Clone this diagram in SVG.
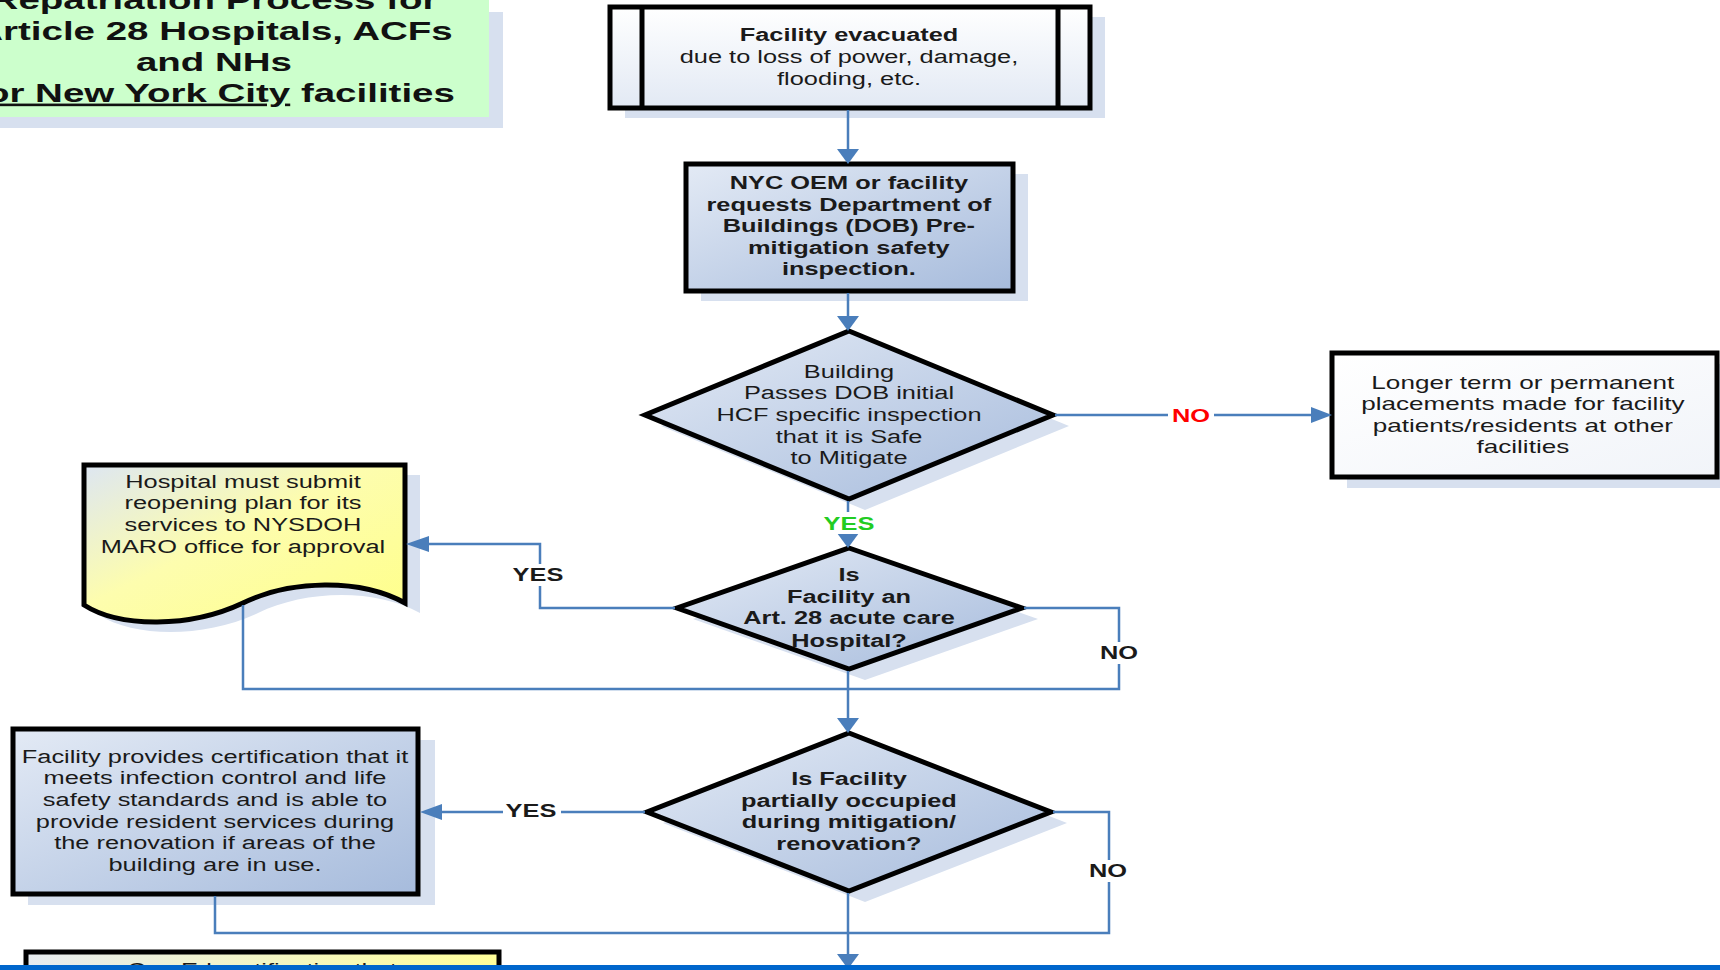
<svg xmlns="http://www.w3.org/2000/svg" width="1720" height="970" viewBox="0 0 1720 970">
<style>
text { font-family: "Liberation Sans", Arial, sans-serif; fill: #1a1a1a; text-anchor: middle; transform-box: fill-box; transform-origin: center; transform: scaleX(1.41); }
.t { font-size: 18px; }
.b { font-size: 18px; font-weight: bold; }
.title { font-size: 26px; font-weight: bold; fill: #111; transform: scaleX(1.48); }
.lbl { font-size: 18px; font-weight: bold; }
.sh { fill: #d7e0ef; }
.edge { fill: none; stroke: #000; stroke-width: 5; stroke-linejoin: miter; }
.conn { fill: none; stroke: #4a7ebb; stroke-width: 2.5; }
.ah { fill: #4a7ebb; stroke: none; }
</style>
<defs>
<linearGradient id="gBlue" x1="0" y1="0" x2="1" y2="1">
<stop offset="0" stop-color="#e3eaf5"/>
<stop offset="1" stop-color="#a6bbdc"/>
</linearGradient>
<linearGradient id="gWhite" x1="0" y1="0" x2="0" y2="1">
<stop offset="0" stop-color="#ffffff"/>
<stop offset="1" stop-color="#e2e9f4"/>
</linearGradient>
<linearGradient id="gWhite2" x1="0" y1="0" x2="1" y2="1">
<stop offset="0" stop-color="#ffffff"/>
<stop offset="1" stop-color="#f1f4f9"/>
</linearGradient>
<linearGradient id="gYellow" x1="0" y1="0" x2="1" y2="1">
<stop offset="0" stop-color="#dde6f2"/>
<stop offset="0.45" stop-color="#fdfdae"/>
<stop offset="1" stop-color="#ffff88"/>
</linearGradient>
<linearGradient id="gYellowH" x1="0" y1="0" x2="1" y2="0">
<stop offset="0" stop-color="#e6ebf0"/>
<stop offset="1" stop-color="#ffff99"/>
</linearGradient>
</defs>

<rect x="0" y="0" width="1720" height="970" fill="#ffffff"/>

<g id="title">
<rect class="sh" x="0" y="12" width="503" height="116"/>
<rect x="0" y="0" width="489" height="117" fill="#ccffcc"/>
<text class="title"><tspan x="214" y="9">Repatriation Process for</tspan><tspan x="214" y="40">Article 28 Hospitals, ACFs</tspan><tspan x="214" y="71">and NHs</tspan><tspan x="214" y="102"><tspan text-decoration="underline">for New York City</tspan> facilities</tspan></text>
</g>

<g id="n-evacuated">
<rect class="sh" x="625" y="17" width="480" height="101"/>
<rect x="610" y="7" width="480" height="101" fill="url(#gWhite)"/>
<rect class="edge" x="610" y="7" width="480" height="101"/>
<line class="edge" x1="642" y1="7" x2="642" y2="108"/>
<line class="edge" x1="1058" y1="7" x2="1058" y2="108"/>
<text class="t"><tspan x="849" y="41" style="font-weight:bold">Facility evacuated</tspan><tspan x="849" y="63">due to loss of power, damage,</tspan><tspan x="849" y="85">flooding, etc.</tspan></text>
</g>

<g id="n-request">
<rect class="sh" x="701" y="174" width="327" height="127"/>
<rect x="686" y="164" width="327" height="127" fill="url(#gBlue)"/>
<rect class="edge" x="686" y="164" width="327" height="127"/>
<text class="b"><tspan x="849" y="189">NYC OEM or facility</tspan><tspan x="849" y="211">requests Department of</tspan><tspan x="849" y="232">Buildings (DOB) Pre-</tspan><tspan x="849" y="254">mitigation safety</tspan><tspan x="849" y="275">inspection.</tspan></text>
</g>

<g id="n-passes">
<polygon class="sh" points="865,342 1069,426 865,510 661,426"/>
<polygon points="849,331 1053,415 849,499 645,415" fill="url(#gBlue)" stroke="#000" stroke-width="5" stroke-linejoin="miter"/>
<text class="t"><tspan x="849" y="378">Building</tspan><tspan x="849" y="399">Passes DOB initial</tspan><tspan x="849" y="421">HCF specific inspection</tspan><tspan x="849" y="443">that it is Safe</tspan><tspan x="849" y="464">to Mitigate</tspan></text>
</g>

<g id="n-longer">
<rect class="sh" x="1347" y="364" width="373" height="124"/>
<rect x="1332" y="353" width="385" height="124" fill="url(#gWhite2)"/>
<rect class="edge" x="1332" y="353" width="385" height="124"/>
<text class="t" style="font-size:18.5px"><tspan x="1523" y="389">Longer term or permanent</tspan><tspan x="1523" y="410.5">placements made for facility</tspan><tspan x="1523" y="432">patients/residents at other</tspan><tspan x="1523" y="453.5">facilities</tspan></text>
</g>

<g id="n-hospital-plan">
<path class="sh" d="M99,475 H420 V613 C375,588 305,590 258,613 C205,638 135,638 99,615 Z"/>
<path d="M84,465 H405 V603 C360,578 290,580 243,603 C190,628 120,628 84,605 Z" fill="url(#gYellow)" stroke="#000" stroke-width="5" stroke-linejoin="miter"/>
<text class="t"><tspan x="243" y="488">Hospital must submit</tspan><tspan x="243" y="509">reopening plan for its</tspan><tspan x="243" y="531">services to NYSDOH</tspan><tspan x="243" y="553">MARO office for approval</tspan></text>
</g>

<g id="n-art28">
<polygon class="sh" points="865,559 1038,619 865,680 693,619"/>
<polygon points="849,548 1022,608 849,669 677,608" fill="url(#gBlue)" stroke="#000" stroke-width="5" stroke-linejoin="miter"/>
<text class="b"><tspan x="849" y="581">Is</tspan><tspan x="849" y="603">Facility an</tspan><tspan x="849" y="624">Art. 28 acute care</tspan><tspan x="849" y="647">Hospital?</tspan></text>
</g>

<g id="n-occupied">
<polygon class="sh" points="865,744 1067,823 865,902 663,823"/>
<polygon points="849,733 1051,812 849,891 647,812" fill="url(#gBlue)" stroke="#000" stroke-width="5" stroke-linejoin="miter"/>
<text class="b"><tspan x="849" y="785">Is Facility</tspan><tspan x="849" y="807">partially occupied</tspan><tspan x="849" y="828">during mitigation/</tspan><tspan x="849" y="850">renovation?</tspan></text>
</g>

<g id="n-certification">
<rect class="sh" x="28" y="740" width="407" height="165"/>
<rect x="13" y="729" width="405" height="165" fill="url(#gBlue)"/>
<rect class="edge" x="13" y="729" width="405" height="165"/>
<text class="t"><tspan x="215" y="763">Facility provides certification that it</tspan><tspan x="215" y="784">meets infection control and life</tspan><tspan x="215" y="806">safety standards and is able to</tspan><tspan x="215" y="828">provide resident services during</tspan><tspan x="215" y="849">the  renovation if areas of the</tspan><tspan x="215" y="871">building are in use.</tspan></text>
</g>

<g id="n-coned">
<rect x="26" y="952" width="473" height="30" fill="url(#gYellowH)"/>
<rect class="edge" x="26" y="952" width="473" height="30"/>
<text class="t"><tspan x="262" y="976">Con Ed certification that</tspan></text>
</g>

<g id="connectors">
<path class="conn" d="M848,110 V150"/>
<polygon class="ah" points="848,164 837,149 859,149"/>
<path class="conn" d="M848,293 V317"/>
<polygon class="ah" points="848,331 837,316 859,316"/>
<path class="conn" d="M848,501 V534"/>
<polygon class="ah" points="848,548 837,533 859,533"/>
<path class="conn" d="M848,671 V719"/>
<polygon class="ah" points="848,733 837,718 859,718"/>
<path class="conn" d="M848,893 V955"/>
<polygon class="ah" points="848,969 837,954 859,954"/>
<path class="conn" d="M1055,415 H1313"/>
<polygon class="ah" points="1332,415 1311,407 1311,423"/>
<path class="conn" d="M675,608 H540 V544 H426"/>
<polygon class="ah" points="406,544 429,536 429,552"/>
<path class="conn" d="M1024,608 H1119 V689 H848"/>
<path class="conn" d="M243,605 V689 H848"/>
<path class="conn" d="M645,812 H440"/>
<polygon class="ah" points="420,812 442,804 442,820"/>
<path class="conn" d="M1053,812 H1109 V933 H848"/>
<path class="conn" d="M215,896 V933 H848"/>
<rect x="818" y="512" width="62" height="22" fill="#ffffff"/>
<text class="lbl" x="849" y="530" style="fill:#22cc22">YES</text>
<rect x="1168" y="405" width="46" height="22" fill="#ffffff"/>
<text class="lbl" x="1191" y="422" style="fill:#ff0000">NO</text>
<rect x="510" y="564" width="58" height="22" fill="#ffffff"/>
<text class="lbl" x="538" y="581">YES</text>
<rect x="1096" y="642" width="46" height="22" fill="#ffffff"/>
<text class="lbl" x="1119" y="659">NO</text>
<rect x="503" y="800" width="58" height="22" fill="#ffffff"/>
<text class="lbl" x="531" y="817">YES</text>
<rect x="1086" y="860" width="46" height="22" fill="#ffffff"/>
<text class="lbl" x="1108" y="877">NO</text>
</g>

<rect id="footer-bar" x="0" y="965" width="1720" height="5" fill="#0066cc"/>
</svg>
